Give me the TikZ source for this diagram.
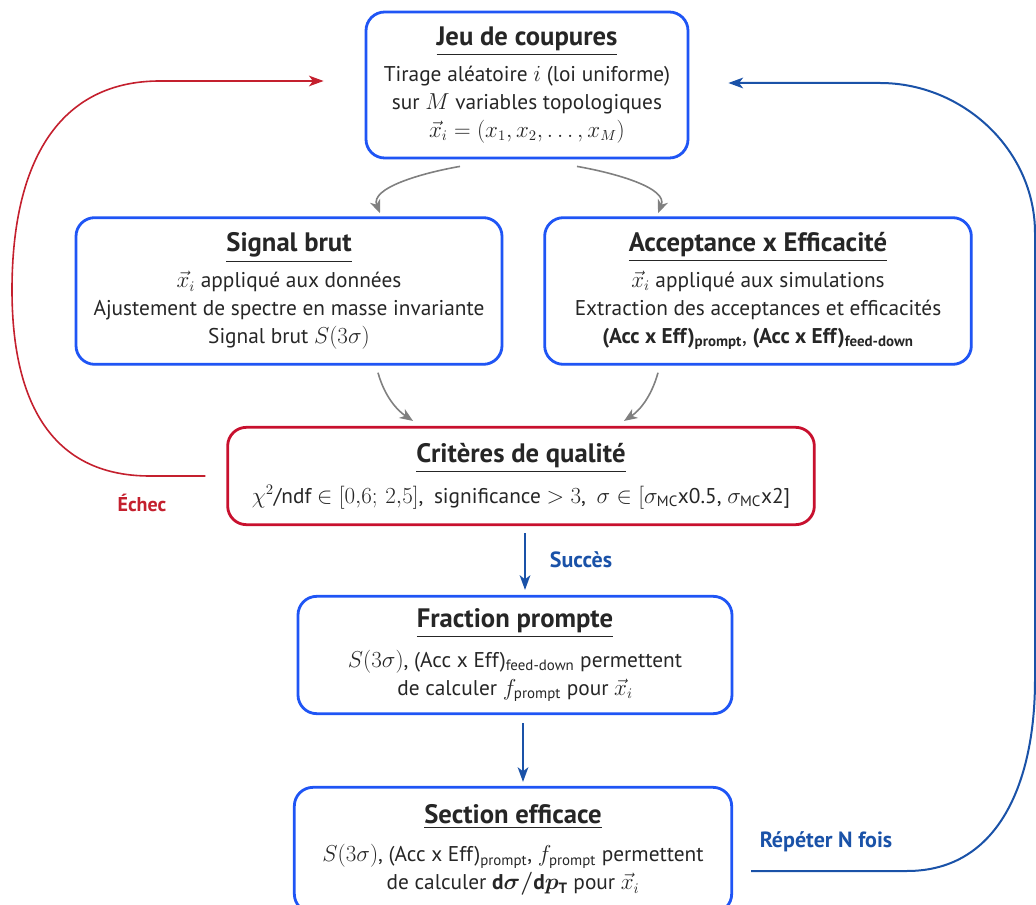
\documentclass[tikz,border=0pt]{standalone}
\usepackage{amsmath}
\usepackage{fontspec}
\setmainfont{PT Sans}
\usetikzlibrary{arrows.meta,calc,shadows}
\definecolor{boxblue}{HTML}{1F55F5}
\definecolor{boxred}{HTML}{C8102E}
\definecolor{arrblue}{HTML}{1A52A8}
\definecolor{arrred}{HTML}{C4202E}
\definecolor{txt}{HTML}{262626}
\newcommand{\boxtitle}[1]{{\fontsize{20}{22}\selectfont\bfseries\underline{#1}}}
\tikzset{
  box/.style={draw=boxblue, line width=2.1pt, rounded corners=14pt, fill=white,
    align=center, text=txt, font=\fontsize{16}{21}\selectfont, inner sep=0pt,
    drop shadow={shadow xshift=0.8pt, shadow yshift=-0.8pt, opacity=0.25, fill=black!60}},
  redbox/.style={box, draw=boxred},
  grayarrow/.style={draw=black!50, line width=1.2pt, -{Stealth[length=10pt,width=8pt,inset=3pt]}},
  bluearrow/.style={draw=arrblue, line width=1.5pt, -{Stealth[length=11pt,width=8pt,inset=3pt]}},
  redarrow/.style={draw=arrred, line width=1.2pt, -{Stealth[length=11pt,width=8pt,inset=3pt]}},
  lab/.style={font=\fontsize{16.5}{18}\selectfont\bfseries},
}
\begin{document}
\begin{tikzpicture}[x=0.75pt,y=-0.75pt]
\useasboundingbox (0,0) rectangle (1036,905);

\node[box, minimum width=241.5pt, minimum height=109.5pt] (b1) at (527,85)
  {\boxtitle{Jeu de coupures}\\[6pt]
   Tirage aléatoire $i$ (loi uniforme)\\
   sur $M$ variables topologiques\\
   $\vec{x}_i = (x_1, x_2, \ldots, x_M)$};

\node[box, minimum width=319.5pt, minimum height=110pt] (b2) at (289,291)
  {\boxtitle{Signal brut}\\[6pt]
   $\vec{x}_i$ appliqué aux données\\
   Ajustement de spectre en masse invariante\\
   Signal brut $S(3\sigma)$};

\node[box, minimum width=320pt, minimum height=110pt] (b3) at (758,291)
  {\boxtitle{Acceptance x Efficacité}\\[6pt]
   $\vec{x}_i$ appliqué aux simulations\\
   Extraction des acceptances et efficacités\\
   \textbf{(Acc x Eff)}$_{\textbf{prompt}}$, \textbf{(Acc x Eff)}$_{\textbf{feed-down}}$};

\node[redbox, minimum width=440pt, minimum height=73pt] (b4) at (521,476)
  {\boxtitle{Critères de qualité}\\[8pt]
   $\chi^2$/ndf $\in [0{,}6;\,2{,}5]$,\enspace significance $>3$,\enspace
   $\sigma\in[\sigma_{\text{MC}}$x0.5, $\sigma_{\text{MC}}$x2]};

\node[box, minimum width=325.5pt, minimum height=88pt] (b5) at (515,655)
  {\boxtitle{Fraction prompte}\\[8pt]
   $S(3\sigma)$, (Acc x Eff)$_{\text{feed-down}}$ permettent\\
   de calculer $f_{\text{prompt}}$ pour $\vec{x}_i$};

\node[box, minimum width=328pt, minimum height=94pt] (b6) at (513,850)
  {\boxtitle{Section efficace}\\[8pt]
   $S(3\sigma)$, (Acc x Eff)$_{\text{prompt}}$, $f_{\text{prompt}}$ permettent\\
   de calculer $\boldsymbol{\mathrm{d}\sigma/\mathrm{d}p_{\mathrm{T}}}$ pour $\vec{x}_i$};

% gray arrows
\draw[grayarrow] ($(b1.south)+(-67,7)$) .. controls +(-40,7) and +(-10,-25) .. ($(b2.north)+(91,-3)$);
\draw[grayarrow] ($(b1.south)+(50,7)$) .. controls +(40,7) and +(10,-25) .. ($(b3.north)+(-100,-3)$);
\draw[grayarrow] ($(b2.south)+(89,7)$) .. controls +(7,25) and +(-15,-10) .. ($(b4.north)+(-108,-5)$);
\draw[grayarrow] ($(b3.south)+(-100,7)$) .. controls +(-7,25) and +(15,-10) .. ($(b4.north)+(103,-5)$);

% blue straight arrows
\draw[bluearrow] ($(b4.south)+(4,7)$) -- ($(b5.north)+(10,-5)$);
\node[lab, text=arrblue] (succ) at (581,560) {Succès};
\draw[bluearrow] ($(b5.south)+(8,8)$) -- ($(b6.north)+(10,-4)$);

% red loop
\coordinate (rs) at ($(b4.west)+(-21,0)$);
\coordinate (re) at ($(b1.west)+(-41,-4)$);
\draw[redarrow] (rs) -- (150,476) .. controls (50,476) and (12,400) .. (12,290)
  .. controls (12,160) and (60,81) .. (160,81) -- (re);
\node[lab, text=arrred, font=\fontsize{15}{18}\selectfont\bfseries] (echec) at (142,503) {Échec};

% blue loop
\coordinate (bs) at ($(b6.east)+(18,21)$);
\coordinate (be) at ($(b1.east)+(39,-2)$);
\draw[bluearrow] (bs) -- (907,871) .. controls (1000,871) and (1035,780) .. (1035,680)
  -- (1035,233) .. controls (1035,150) and (963,83) .. (880,83) -- (be);
\node[lab, text=arrblue] (rep) at (826,842) {Répéter N fois};
\end{tikzpicture}
\end{document}
